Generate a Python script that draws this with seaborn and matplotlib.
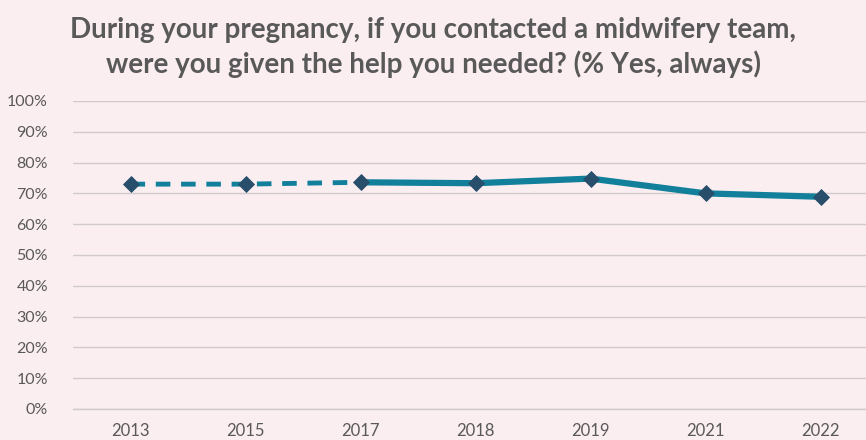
import matplotlib
matplotlib.use("Agg")
import matplotlib.pyplot as plt
import seaborn as sns
import pandas as pd
import numpy as np

years = ["2013", "2015", "2017", "2018", "2019", "2021", "2022"]
pct_yes = [73.0, 73.0, 73.6, 73.3, 74.8, 70.0, 68.9]
yticks = [0, 10, 20, 30, 40, 50, 60, 70, 80, 90, 100]

bg = "#FBEEF1"
line_col = "#12809B"
marker_col = "#274E6B"
text_col = "#595959"
grid_col = "#CFCACC"

sns.set_theme(style="white")
plt.rcParams["font.family"] = ["Lato", "DejaVu Sans"]

df = pd.DataFrame({"year": years, "pct": pct_yes})
df["pos"] = np.arange(len(df))

fig = plt.figure(figsize=(8.66, 4.4), dpi=100, facecolor=bg)
ax = fig.add_axes([0.0843, 0.0705, 0.9296, 0.70])
ax.set_facecolor(bg)

# earlier survey years drawn dashed, later ones solid
early = df.iloc[:3]
late = df.iloc[2:]
sns.lineplot(data=early, x="pos", y="pct", ax=ax, color=line_col, lw=3.5,
             linestyle=(0, (3, 2.2)), zorder=3)
sns.lineplot(data=late, x="pos", y="pct", ax=ax, color=line_col, lw=4.5,
             zorder=3)
sns.scatterplot(data=df, x="pos", y="pct", ax=ax, marker="D", s=65,
                color=marker_col, edgecolor=marker_col, zorder=4)

ax.set_xlim(-0.5, len(years) - 0.5)
ax.set_ylim(0, 100)
ax.set_yticks(yticks)
ax.set_yticklabels([f"{v}%" for v in yticks], color=text_col, fontsize=11.5)
ax.set_xticks(df["pos"])
ax.set_xticklabels(years, color=text_col, fontsize=12)
ax.set_xticks(np.arange(-0.5, len(years)), minor=True)
ax.tick_params(axis="x", which="major", length=0, pad=10)
ax.tick_params(axis="x", which="minor", length=5, color=grid_col, width=1)
ax.tick_params(axis="y", length=0, pad=18)
ax.set_xlabel("")
ax.set_ylabel("")
ax.yaxis.grid(True, color=grid_col, lw=1)
ax.set_axisbelow(True)
for s in ["top", "right", "left"]:
    ax.spines[s].set_visible(False)
ax.spines["bottom"].set_color(grid_col)
ax.spines["bottom"].set_linewidth(1)

fig.text(0.5, 0.962, "During your pregnancy, if you contacted a midwifery team,\n"
         "were you given the help you needed? (% Yes, always)",
         ha="center", va="top", fontsize=20, fontweight="bold",
         color=text_col, linespacing=1.35)

fig.savefig("out.png", dpi=100, facecolor=bg)
